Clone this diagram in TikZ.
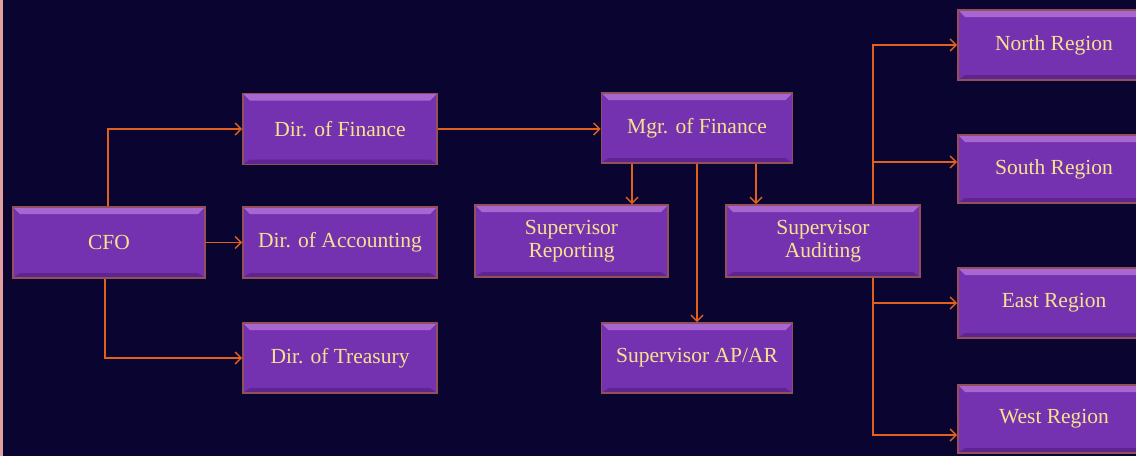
\documentclass[tikz,border=0pt]{standalone}
\usepackage{fontspec}
\setmainfont{Liberation Serif}
\usetikzlibrary{arrows.meta}
\definecolor{bgnavy}{HTML}{0A0530}
\definecolor{edgepink}{HTML}{E0A0A0}
\definecolor{boxfill}{HTML}{7432B0}
\definecolor{boxtop}{HTML}{A866D0}
\definecolor{boxbottom}{HTML}{5E2490}
\definecolor{boxrim}{HTML}{94505A}
\definecolor{labelgold}{HTML}{F6E28E}
\definecolor{linkorange}{HTML}{E2601E}
\tikzset{
  orgbox/.style={
    rectangle, fill=boxfill, draw=boxrim, line width=1.8pt,
    minimum width=193pt, minimum height=71pt, inner sep=2pt,
    text=labelgold, align=center,
    font=\fontsize{21.5}{23}\selectfont,
    path picture={
      \fill[boxtop]
        (path picture bounding box.north west) --
        (path picture bounding box.north east) --
        ([xshift=-7pt,yshift=-7pt]path picture bounding box.north east) --
        ([xshift=7pt,yshift=-7pt]path picture bounding box.north west) -- cycle;
      \fill[boxbottom]
        (path picture bounding box.south west) --
        (path picture bounding box.south east) --
        ([xshift=-7pt,yshift=5pt]path picture bounding box.south east) --
        ([xshift=7pt,yshift=5pt]path picture bounding box.south west) -- cycle;
    }
  },
  link/.style={draw=linkorange, line width=1.6pt,
    -{Straight Barb[length=6pt,width=12pt,line width=1.4pt]}},
}
\begin{document}
\begin{tikzpicture}[x=1pt,y=-1pt]
  \clip (0,0) rectangle (1136,456);
  \fill[bgnavy] (0,0) rectangle (1136,456);
  \fill[edgepink] (0,0) rectangle (2.5,456);

  % executive level
  \node[orgbox, minimum width=192pt] (cfo) at (109,242.5) {CFO};
  \node[orgbox, minimum width=194pt] (dfin) at (340,129) {Dir. of Finance};
  \node[orgbox, minimum width=194pt] (dacc) at (340,242.5) {Dir. of Accounting};
  \node[orgbox, minimum width=194pt, minimum height=70pt] (dtre) at (340,358) {Dir. of Treasury};

  % finance management
  \node[orgbox, minimum width=191pt, minimum height=70pt] (mgr) at (697,128) {Mgr. of Finance};
  \node[orgbox, minimum height=72pt] (srep) at (571.5,241) {Supervisor\\Reporting};
  \node[orgbox, minimum width=194pt, minimum height=72pt] (saud) at (823,241) {Supervisor\\Auditing};
  \node[orgbox, minimum width=191pt, minimum height=70pt] (sapar) at (697,358) {Supervisor AP/AR};

  % regions
  \node[orgbox, minimum width=192pt, minimum height=70pt] (north) at (1054,45) {North Region};
  \node[orgbox, minimum width=192pt, minimum height=68pt] (south) at (1054,169) {South Region};
  \node[orgbox, minimum width=192pt, minimum height=70pt] (east) at (1054,303) {East Region};
  \node[orgbox, minimum width=192pt, minimum height=68pt] (west) at (1054,419) {West Region};

  % CFO links
  \draw[link] ([xshift=-1pt]cfo.north) |- (dfin.west);
  \draw[link] (cfo.east) -- (dacc.west);
  \draw[link] ([xshift=-4pt]cfo.south) |- (dtre.west);

  % finance chain
  \draw[link] (dfin.east) -- (mgr.west |- dfin.east);
  \draw[link] ([xshift=-65pt]mgr.south) -- ([xshift=-65pt]mgr.south |- srep.north);
  \draw[link] ([xshift=59pt]mgr.south) -- ([xshift=59pt]mgr.south |- saud.north);
  \draw[link] (mgr.south) -- (sapar.north);

  % auditing to regions
  \draw[link] ([xshift=50pt]saud.north) |- (north.west);
  \draw[link] ([xshift=50pt]saud.north) |- ([yshift=7pt]south.west);
  \draw[link] ([xshift=50pt]saud.south) |- (east.west);
  \draw[link] ([xshift=50pt]saud.south) |- ([yshift=-16pt]west.west);
\end{tikzpicture}
\end{document}
